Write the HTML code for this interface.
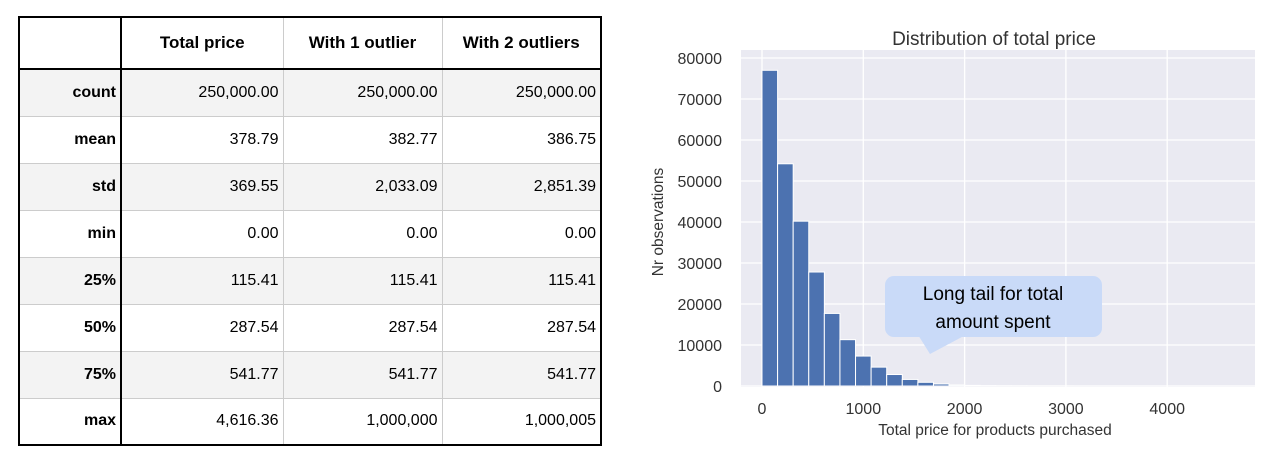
<!DOCTYPE html>
<html><head><meta charset="utf-8">
<style>
body{margin:0;width:1268px;height:460px;background:#fff;overflow:hidden;font-family:"Liberation Sans",Arial,sans-serif;position:relative}
table{position:absolute;left:18px;top:16px;border-collapse:collapse;font-size:16px;table-layout:fixed;width:582px;border:2px solid #000}
td{border:1px solid #ccc;height:47px;padding:0 4px;text-align:right;color:#000;box-sizing:border-box}
tr.g td{background:#f3f3f3}
td.h{font-weight:bold;border-right:2px solid #000}
tr.hd td{font-weight:bold;text-align:center;height:52px;border-bottom:2px solid #000;background:#fff;font-size:17px}
</style></head><body>
<table>
<colgroup><col style="width:102px"><col style="width:162px"><col style="width:159px"><col style="width:159px"></colgroup>
<tr class="hd"><td class="h"></td><td>Total price</td><td>With 1 outlier</td><td>With 2 outliers</td></tr>
<tr class="g"><td class="h">count</td><td>250,000.00</td><td>250,000.00</td><td>250,000.00</td></tr>
<tr><td class="h">mean</td><td>378.79</td><td>382.77</td><td>386.75</td></tr>
<tr class="g"><td class="h">std</td><td>369.55</td><td>2,033.09</td><td>2,851.39</td></tr>
<tr><td class="h">min</td><td>0.00</td><td>0.00</td><td>0.00</td></tr>
<tr class="g"><td class="h">25%</td><td>115.41</td><td>115.41</td><td>115.41</td></tr>
<tr><td class="h">50%</td><td>287.54</td><td>287.54</td><td>287.54</td></tr>
<tr class="g"><td class="h">75%</td><td>541.77</td><td>541.77</td><td>541.77</td></tr>
<tr><td class="h">max</td><td>4,616.36</td><td>1,000,000</td><td>1,000,005</td></tr>
</table>
<svg id="chart" width="1268" height="460" style="position:absolute;left:0;top:0"></svg>
<script>
const binCounts=[77000,54200,40200,27800,17700,11300,7300,4600,2800,1600,900,500,250,150,80,50,30,20,10,8,5,4,3,2,2,1,1,1,1,1];
const binWidthValue=4616.36/30;
const yTicks=[0,10000,20000,30000,40000,50000,60000,70000,80000];
const xTicks=[0,1000,2000,3000,4000];
const NS="http://www.w3.org/2000/svg";
const svg=document.getElementById('chart');
const L=741,R=1255,T=50,B=387;
const x=v=>762+v*0.1013;
const y=v=>386-v*(328/80000);
function mk(t,a,p){const e=document.createElementNS(NS,t);for(const k in a)e.setAttribute(k,a[k]);(p||svg).appendChild(e);return e;}
const bg=mk('rect',{x:L,y:T,width:R-L,height:B-T,fill:'#eaeaf2'});


yTicks.forEach(v=>{
 const g=mk('line',{x1:L,x2:R,y1:y(v),y2:y(v),stroke:'#fff','stroke-width':1.3});
 
 
 const t=mk('text',{x:722,y:y(v)+6,'text-anchor':'end','font-size':16,fill:'#333'});t.textContent=v;
 
 
});
xTicks.forEach(v=>{
 const g=mk('line',{x1:x(v),x2:x(v),y1:T,y2:B,stroke:'#fff','stroke-width':1.3});
 
 
 const t=mk('text',{x:x(v),y:414,'text-anchor':'middle','font-size':16,fill:'#333'});t.textContent=v;
 
 
});
binCounts.forEach((c,i)=>{
 const x0=x(i*binWidthValue),x1=x((i+1)*binWidthValue);
 const b=mk('rect',{x:x0,y:y(c),width:x1-x0,height:Math.max(0,y(0)-y(c)),fill:'#4c72b0',stroke:'#fff','stroke-width':1});
 
 
});
let t=mk('text',{x:994,y:45,'text-anchor':'middle','font-size':19,fill:'#333'});t.textContent='Distribution of total price';


t=mk('text',{x:995,y:435,'text-anchor':'middle','font-size':15.5,fill:'#333'});t.textContent='Total price for products purchased';


t=mk('text',{x:663,y:222,'text-anchor':'middle','font-size':15.5,fill:'#333',transform:'rotate(-90 663 222)'});t.textContent='Nr observations';


const co=mk('g',{});


mk('path',{d:'M915 330 L930 354 L975 330 Z',fill:'#c9daf8'},co);
mk('rect',{x:885,y:276,width:217,height:61,rx:9,fill:'#c9daf8'},co);
t=mk('text',{x:993,y:300,'text-anchor':'middle','font-size':19,fill:'#000'},co);t.textContent='Long tail for total';


t=mk('text',{x:993,y:328,'text-anchor':'middle','font-size':19,fill:'#000'},co);t.textContent='amount spent';


</script>
</body></html>
